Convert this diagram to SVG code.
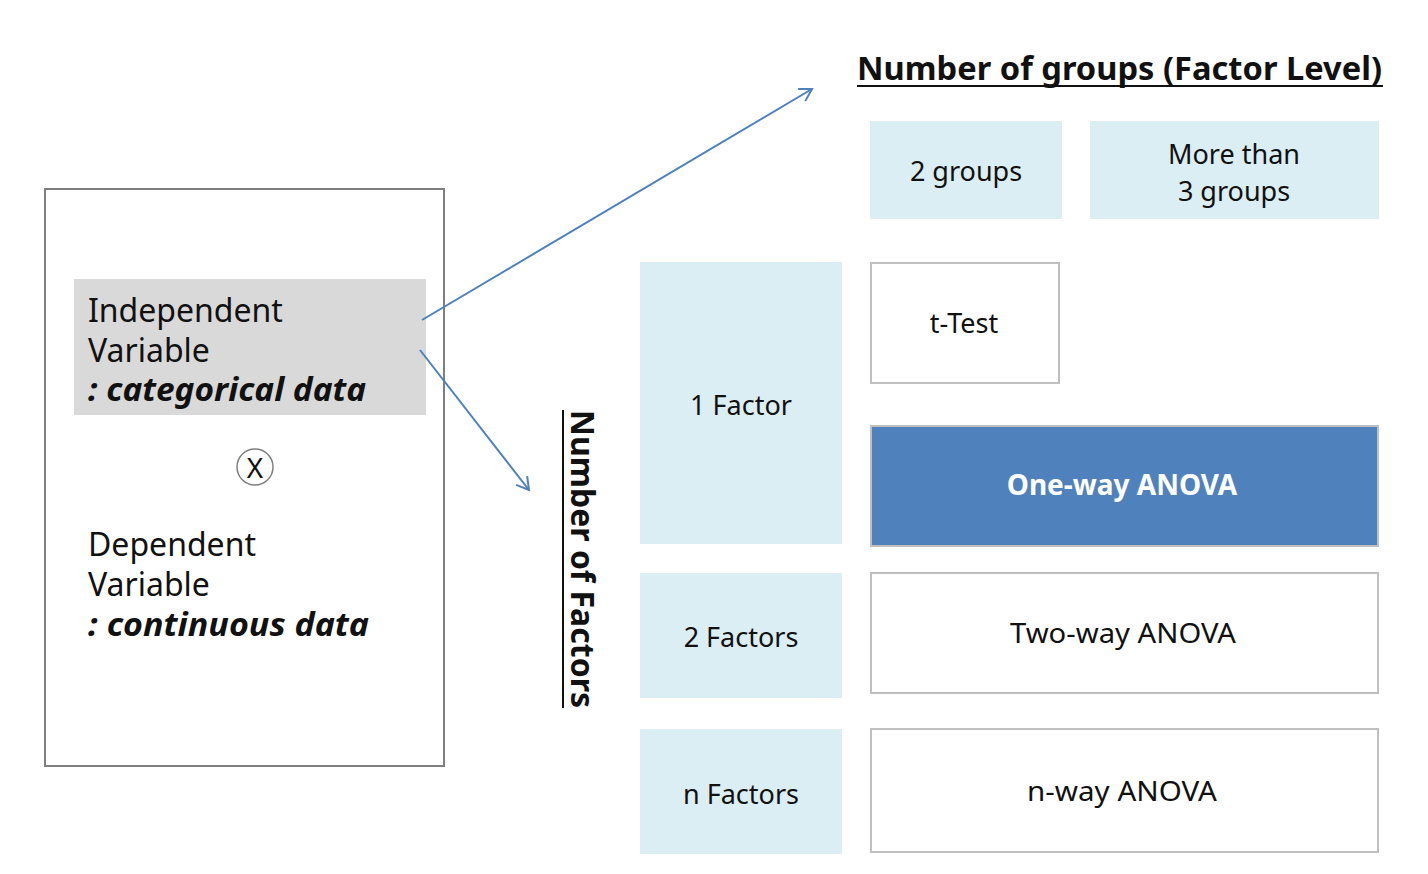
<svg xmlns="http://www.w3.org/2000/svg" width="1428" height="874" viewBox="0 0 1428 874">
<defs>
<style>
text{font-family:"Noto Sans","Open Sans","Liberation Sans",sans-serif;fill:#111}
.lb{fill:#dbeef4}
.wb{fill:#fff;stroke:#bfbfbf;stroke-width:2}
.t28{font-size:27px}
.big{font-size:32px}
.bi{font-weight:bold;font-style:italic}
.conn{stroke:#4f81bd;stroke-width:2;fill:none;marker-end:url(#ah)}
</style>
<marker id="ah" markerWidth="20" markerHeight="20" refX="14" refY="8" orient="auto" markerUnits="userSpaceOnUse">
<path d="M2,1 L14,8 L2,15" fill="none" stroke="#4f81bd" stroke-width="2"/>
</marker>
</defs>
<rect width="1428" height="874" fill="#fff"/>

<g id="variables">
<rect x="45" y="189" width="399" height="577" fill="#fff" stroke="#7f7f7f" stroke-width="2"/>
<rect x="74" y="279" width="352" height="136" fill="#d9d9d9"/>
<text class="big" x="88" y="322">Independent</text>
<text class="big" x="88" y="362">Variable</text>
<text class="big bi" x="88" y="401" textLength="278" lengthAdjust="spacingAndGlyphs">: categorical data</text>
<circle cx="255" cy="467" r="18" fill="#fff" stroke="#7f7f7f" stroke-width="1.5"/>
<text x="255" y="478" font-size="28" text-anchor="middle">X</text>
<text class="big" x="88" y="556">Dependent</text>
<text class="big" x="88" y="596">Variable</text>
<text class="big bi" x="88" y="636" textLength="281" lengthAdjust="spacingAndGlyphs">: continuous data</text>
</g>

<g id="connectors">
<line class="conn" x1="422" y1="320" x2="812" y2="89"/>
<line class="conn" x1="420" y1="350" x2="529" y2="490"/>
</g>

<g id="title-groups">
<text x="857" y="80" font-size="32" font-weight="bold" textLength="525" lengthAdjust="spacingAndGlyphs">Number of groups (Factor Level)</text>
<line x1="857" y1="86" x2="1383" y2="86" stroke="#111" stroke-width="2"/>
</g>

<g id="title-factors">
<text transform="translate(571,559) rotate(90)" font-size="32" font-weight="bold" text-anchor="middle" textLength="298" lengthAdjust="spacingAndGlyphs">Number of Factors</text>
<line x1="563" y1="410" x2="563" y2="708" stroke="#111" stroke-width="2"/>
</g>

<g id="g2">
<rect class="lb" x="870" y="121" width="192" height="98"/>
<text class="t28" x="966" y="181" text-anchor="middle">2 groups</text>
</g>
<g id="g3">
<rect class="lb" x="1090" y="121" width="289" height="98"/>
<text class="t28" x="1234" y="164" text-anchor="middle">More than</text>
<text class="t28" x="1234" y="201" text-anchor="middle">3 groups</text>
</g>

<g id="f1">
<rect class="lb" x="640" y="262" width="202" height="282"/>
<text class="t28" x="741" y="415" text-anchor="middle">1 Factor</text>
</g>
<g id="f2">
<rect class="lb" x="640" y="573" width="202" height="125"/>
<text class="t28" x="741" y="647" text-anchor="middle">2 Factors</text>
</g>
<g id="fn">
<rect class="lb" x="640" y="729" width="202" height="125"/>
<text class="t28" x="741" y="804" text-anchor="middle">n Factors</text>
</g>

<g id="ttest">
<rect class="wb" x="871" y="263" width="188" height="120"/>
<text class="t28" x="964" y="333" text-anchor="middle">t-Test</text>
</g>
<g id="oneway">
<rect x="871" y="426" width="507" height="120" fill="#4f81bd" stroke="#bfbfbf" stroke-width="2"/>
<text x="1122" y="495" font-size="28" font-weight="bold" text-anchor="middle" style="fill:#fff">One-way ANOVA</text>
</g>
<g id="twoway">
<rect class="wb" x="871" y="573" width="507" height="120"/>
<text class="t28" x="1123" y="643" text-anchor="middle" textLength="226" lengthAdjust="spacingAndGlyphs">Two-way ANOVA</text>
</g>
<g id="nway">
<rect class="wb" x="871" y="729" width="507" height="123"/>
<text class="t28" x="1122" y="801" text-anchor="middle" textLength="190" lengthAdjust="spacingAndGlyphs">n-way ANOVA</text>
</g>
</svg>
